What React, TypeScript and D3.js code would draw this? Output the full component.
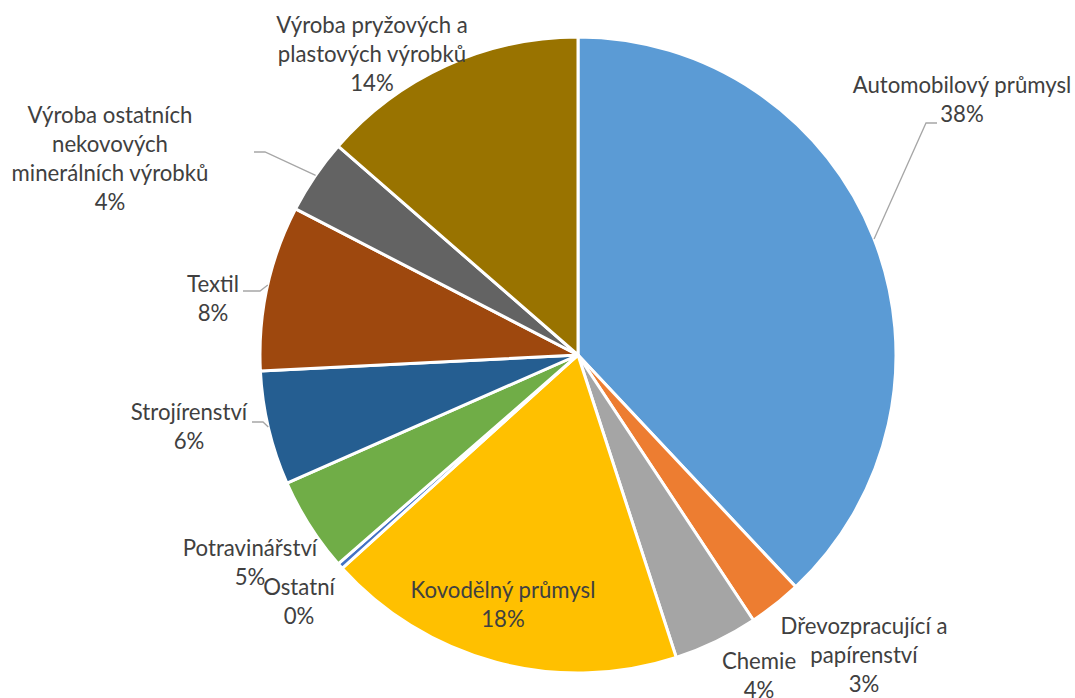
import React from "react";
import * as d3 from "d3";

const categories = [
  "Automobilový průmysl",
  "Dřevozpracující a papírenství",
  "Chemie",
  "Kovodělný průmysl",
  "Ostatní",
  "Potravinářství",
  "Strojírenství",
  "Textil",
  "Výroba ostatních nekovových minerálních výrobků",
  "Výroba pryžových a plastových výrobků",
];
const values = [38.0, 2.7, 4.3, 18.3, 0.3, 4.8, 5.8, 8.4, 3.8, 13.6];
const colors = [
  "#5B9BD5", "#ED7D31", "#A5A5A5", "#FFC000", "#4472C4",
  "#70AD47", "#255E91", "#9E480E", "#636363", "#997300",
];
// label text lines (wrapped as in the reference)
const labelLines = [
  ["Automobilový průmysl"],
  ["Dřevozpracující a", "papírenství"],
  ["Chemie"],
  ["Kovodělný průmysl"],
  ["Ostatní"],
  ["Potravinářství"],
  ["Strojírenství"],
  ["Textil"],
  ["Výroba ostatních", "nekovových", "minerálních výrobků"],
  ["Výroba pryžových a", "plastových výrobků"],
];
// label layout (center x, first baseline y) relative to the pie center
const labelPos = [
  [384, -262], [286, 279], [181, 314], [-75, 243], [-279, 240],
  [-328, 201], [-389, 65], [-365, -63], [-468, -232], [-206, -322],
];
// leader lines: angle on the rim (deg), elbow and end relative to center
const leaders: { i: number; ang: number; elbow: [number, number]; end: [number, number] }[] = [
  { i: 0, ang: 68.6, elbow: [348, -232], end: [359, -232] },
  { i: 8, ang: 304.4, elbow: [-313, -203], end: [-324, -203] },
  { i: 7, ang: 282.7, elbow: [-318, -64], end: [-335, -64] },
  { i: 6, ang: 256.9, elbow: [-315, 67], end: [-326, 67] },
];

const W = 1075;
const H = 698;
const cx = 578;
const cy = 355;
const R = 318;
const fontSize = 22.2;
const lineH = 29;

export default function App() {
  const total = d3.sum(values);
  const pie = d3.pie<number>().sort(null).value((d) => d);
  const arcs = pie(values);
  const arc = d3.arc<d3.PieArcDatum<number>>().innerRadius(0).outerRadius(R);
  const pct = (v: number) => `${Math.round((v / total) * 100)}%`;

  return (
    <svg
      width={W}
      height={H}
      style={{ position: "absolute", left: 0, top: 0, background: "#fff" }}
      fontFamily="Lato, 'Open Sans', sans-serif"
    >
      <g transform={`translate(${cx},${cy})`}>
        {arcs.map((a, i) => (
          <path key={i} d={arc(a) || ""} fill={colors[i]} stroke="#fff" strokeWidth={3} strokeLinejoin="round" />
        ))}
        {leaders.map((l, k) => {
          const t = (l.ang * Math.PI) / 180;
          const x0 = Math.sin(t) * R;
          const y0 = -Math.cos(t) * R;
          return (
            <polyline
              key={k}
              points={`${x0},${y0} ${l.elbow[0]},${l.elbow[1]} ${l.end[0]},${l.end[1]}`}
              fill="none"
              stroke="#A6A6A6"
              strokeWidth={1.3}
            />
          );
        })}
        {arcs.map((a, i) => {
          const lines = [...labelLines[i], pct(values[i])];
          const [lx, ly] = labelPos[i];
          return (
            <text key={i} x={lx} y={ly} textAnchor="middle" fontSize={fontSize} fill="#404040">
              {lines.map((t, j) => (
                <tspan key={j} x={lx} y={ly + j * lineH}>
                  {t}
                </tspan>
              ))}
            </text>
          );
        })}
      </g>
    </svg>
  );
}
